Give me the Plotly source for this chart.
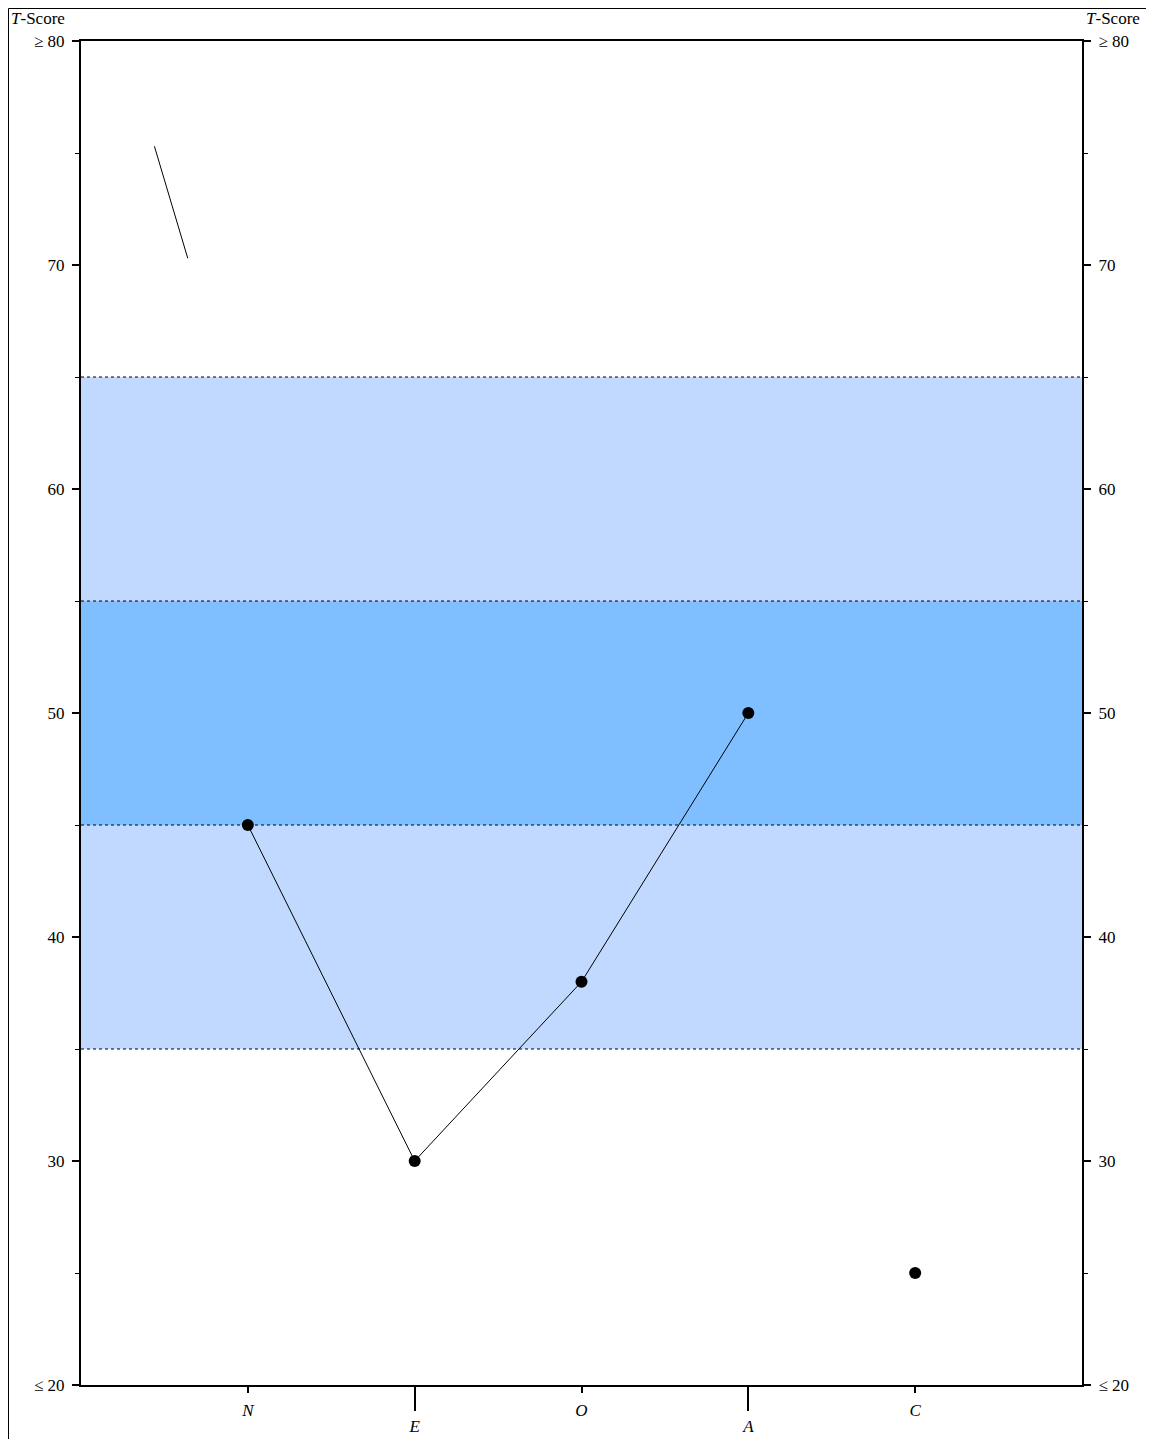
import plotly.graph_objects as go

# five-factor profile, T-scores
factors = ['N', 'E', 'O', 'A', 'C']
factor_pos = [1, 2, 3, 4, 5]
t_scores = [45, 30, 38, 50, 25]
connected = [True, True, True, True, False]

# stray stroke in upper left
stroke_x = [0.44, 0.64]
stroke_y = [75.3, 70.3]

band_outer = (35, 65)
band_inner = (45, 55)
band_lines = [35, 45, 55, 65]

y_ticks = [20, 30, 40, 50, 60, 70, 80]
y_labels = ['\u2264 20', '30', '40', '50', '60', '70', '\u2265 80']

FONT = 'Liberation Serif'
FS = 17
# page body has an 8px margin, so the figure is shifted by 8px
W, H = 1146, 1431
ML, MR, MT, MB = 73, 72, 33, 54
PW, PH = W - ML - MR, H - MT - MB

fig = go.Figure()

line_x = [p for p, c in zip(factor_pos, connected) if c]
line_y = [t for t, c in zip(t_scores, connected) if c]
fig.add_trace(go.Scatter(x=line_x, y=line_y, mode='lines',
                         line=dict(color='black', width=1), hoverinfo='skip'))
fig.add_trace(go.Scatter(x=factor_pos, y=t_scores, mode='markers',
                         marker=dict(color='black', size=12)))
fig.add_trace(go.Scatter(x=stroke_x, y=stroke_y, mode='lines',
                         line=dict(color='black', width=1), hoverinfo='skip'))
# dummy trace to activate the second x axis (long ticks) and right y axis
fig.add_trace(go.Scatter(x=[None], y=[None], xaxis='x2', yaxis='y2', showlegend=False))

fig.add_hrect(y0=band_outer[0], y1=band_outer[1], fillcolor='#c1d8ff', line_width=0, layer='below')
fig.add_hrect(y0=band_inner[0], y1=band_inner[1], fillcolor='#80bfff', line_width=0, layer='below')
for v in band_lines:
    fig.add_hline(y=v, line=dict(color='black', width=1, dash='dot'), layer='below')

# page frame
fig.add_shape(type='rect', xref='paper', yref='paper',
              x0=-(ML - 0.5) / PW, x1=1 + (MR + 20) / PW,
              y0=-(MB + 20) / PH, y1=1 + (MT - 0.5) / PH,
              line=dict(color='black', width=1))

short_idx = [0, 2, 4]
long_idx = [1, 3]
yaxis_common = dict(range=[20, 80], tickvals=y_ticks, ticktext=y_labels,
                    ticks='outside', ticklen=7, tickwidth=2, tickcolor='black',
                    showline=True, linewidth=2, linecolor='black', showgrid=False,
                    zeroline=False, ticklabelstandoff=4, automargin=False,
                    minor=dict(dtick=5, tick0=20, ticks='outside', ticklen=4,
                               tickwidth=1, tickcolor='black', showgrid=False))

fig.update_layout(
    width=W, height=H,
    margin=dict(l=ML, r=MR, t=MT, b=MB),
    plot_bgcolor='white', paper_bgcolor='white',
    showlegend=False,
    font=dict(family=FONT, size=FS, color='black'),
    xaxis=dict(range=[0, 6], tickvals=[factor_pos[i] for i in short_idx],
               ticktext=['<i>%s</i>' % factors[i] for i in short_idx],
               ticks='outside', ticklen=6, tickwidth=2, tickcolor='black',
               showline=True, linewidth=2, linecolor='black', mirror=True,
               showgrid=False, zeroline=False, automargin=False,
               ticklabelstandoff=3),
    xaxis2=dict(range=[0, 6], overlaying='x', side='bottom', anchor='y',
                tickvals=[factor_pos[i] for i in long_idx],
                ticktext=['<i>%s</i>' % factors[i] for i in long_idx],
                ticks='outside', ticklen=25, tickwidth=2, tickcolor='black',
                showline=False, showgrid=False, zeroline=False, automargin=False,
                ticklabelstandoff=1),
    yaxis=yaxis_common,
    yaxis2=dict(yaxis_common, overlaying='y', side='right', anchor='x'),
)

fig.add_annotation(xref='paper', yref='paper', x=-(ML - 1) / PW, y=1,
                   yshift=23, xanchor='left', yanchor='middle', showarrow=False,
                   text='<i>T</i>-Score', font=dict(family=FONT, size=FS))
fig.add_annotation(xref='paper', yref='paper', x=1, xshift=2, y=1,
                   yshift=23, xanchor='left', yanchor='middle', showarrow=False,
                   text='<i>T</i>-Score', font=dict(family=FONT, size=FS))

fig.write_html('out.html')
